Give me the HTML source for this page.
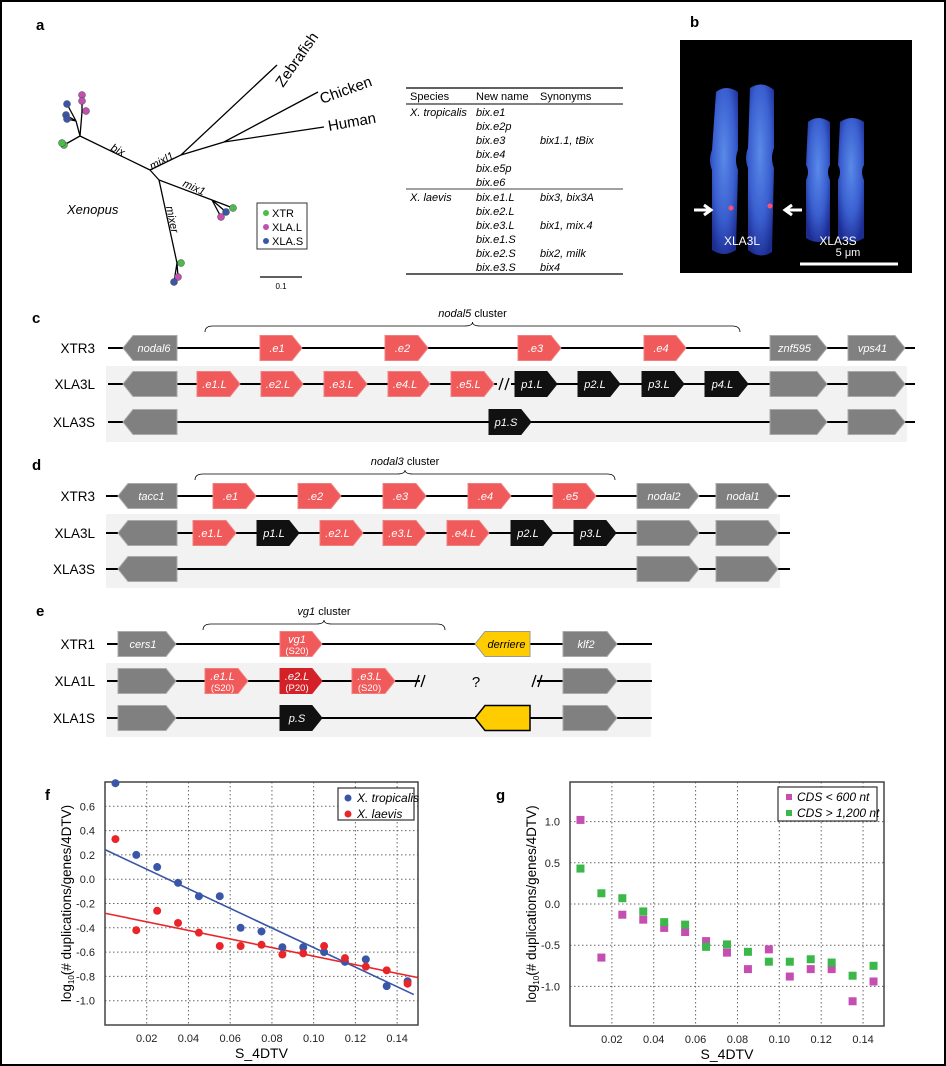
<!DOCTYPE html>
<html><head><meta charset="utf-8"><style>
html,body{margin:0;padding:0;background:#fff}
svg{display:block;font-family:"Liberation Sans",Arial,sans-serif}
</style></head><body>
<svg id="fig" width="946" height="1066" viewBox="0 0 946 1066" xmlns="http://www.w3.org/2000/svg">
<rect x="1" y="1" width="944" height="1064" fill="#fff" stroke="#000" stroke-width="2"/>
<g font-weight="bold" font-size="15">
<text x="36" y="30">a</text>
<text x="690" y="27">b</text>
<text x="32" y="323">c</text>
<text x="32" y="470">d</text>
<text x="36" y="616">e</text>
<text x="45" y="800">f</text>
<text x="496" y="800">g</text>
</g>
<g id="tree" stroke="#000" stroke-width="1.3" fill="none">
<path d="M150,170 L80,136 M80,136 L64,145 M80,136 L76,121 M76,121 L67,104 M76,121 L66,115 M76,121 L67,119 M80,136 L82,112 M82,112 L82,95 M82,112 L82,101 M82,112 L86,111"/>
<path d="M150,170 L181,155 L277,65 M181,155 L224,142 L318,92 M224,142 L324,127"/>
<path d="M150,170 L159,180 L212,200 L233,208 M212,200 L226,212 M212,200 L221,217"/>
<path d="M159,180 L177,263 L181,263 M177,263 L178,277 M177,263 L174,282"/>
</g>
<g stroke="#444" stroke-width="0.5">
<circle cx="64" cy="145" r="3.5" fill="#4cbb4c"/><circle cx="62" cy="143" r="3.5" fill="#4cbb4c"/>
<circle cx="67" cy="104" r="3.5" fill="#3a56a8"/><circle cx="66" cy="115" r="3.5" fill="#3a56a8"/><circle cx="67" cy="119" r="3.5" fill="#3a56a8"/>
<circle cx="82" cy="95" r="3.5" fill="#c44fb0"/><circle cx="82" cy="101" r="3.5" fill="#c44fb0"/><circle cx="86" cy="111" r="3.5" fill="#c44fb0"/>
<circle cx="233" cy="208" r="3.5" fill="#4cbb4c"/><circle cx="226" cy="212" r="3.5" fill="#3a56a8"/><circle cx="221" cy="217" r="3.5" fill="#c44fb0"/>
<circle cx="181" cy="263" r="3.5" fill="#4cbb4c"/><circle cx="178" cy="277" r="3.5" fill="#c44fb0"/><circle cx="174" cy="282" r="3.5" fill="#3a56a8"/>
</g>
<g font-size="13">
<text transform="translate(283,88) rotate(-55)" font-size="15">Zebrafish</text>
<text transform="translate(322,104) rotate(-20)" font-size="15">Chicken</text>
<text transform="translate(329,131) rotate(-10)" font-size="15">Human</text>
<text transform="translate(110,150) rotate(27)" font-style="italic" font-size="11">bix</text>
<text transform="translate(152,170) rotate(-28)" font-style="italic" font-size="11">mixl1</text>
<text transform="translate(182,186) rotate(24)" font-style="italic" font-size="11">mix1</text>
<text transform="translate(166,207) rotate(78)" font-style="italic" font-size="11">mixer</text>
<text x="67" y="214" font-style="italic" font-size="13">Xenopus</text>
</g>
<g>
<rect x="257" y="203" width="50" height="46" fill="#fff" stroke="#333" stroke-width="1"/>
<circle cx="266" cy="213" r="3" fill="#4cbb4c"/><text x="272" y="217" font-size="11">XTR</text>
<circle cx="266" cy="227" r="3" fill="#c44fb0"/><text x="272" y="231" font-size="11">XLA.L</text>
<circle cx="266" cy="241" r="3" fill="#3a56a8"/><text x="272" y="245" font-size="11">XLA.S</text>
</g>
<g><line x1="260" y1="277" x2="302" y2="277" stroke="#000" stroke-width="1.3"/><text x="281" y="289" font-size="8" text-anchor="middle">0.1</text></g>
<g font-size="11">
<line x1="406" y1="88" x2="623" y2="88" stroke="#000" stroke-width="1.3"/>
<line x1="406" y1="104" x2="623" y2="104" stroke="#000" stroke-width="1"/>
<line x1="406" y1="189" x2="623" y2="189" stroke="#000" stroke-width="0.8"/>
<line x1="406" y1="274" x2="623" y2="274" stroke="#000" stroke-width="1.3"/>
<text x="410" y="100">Species</text><text x="476" y="100">New name</text><text x="540" y="100">Synonyms</text>
<g font-style="italic">
<text x="410" y="116">X. tropicalis</text>
<text x="476" y="116">bix.e1</text><text x="476" y="130">bix.e2p</text><text x="476" y="144">bix.e3</text><text x="476" y="158">bix.e4</text><text x="476" y="172">bix.e5p</text><text x="476" y="186">bix.e6</text>
<text x="540" y="144">bix1.1, tBix</text>
<text x="410" y="201">X. laevis</text>
<text x="476" y="201">bix.e1.L</text><text x="476" y="215">bix.e2.L</text><text x="476" y="229">bix.e3.L</text><text x="476" y="243">bix.e1.S</text><text x="476" y="257">bix.e2.S</text><text x="476" y="271">bix.e3.S</text>
<text x="540" y="201">bix3, bix3A</text><text x="540" y="229">bix1, mix.4</text><text x="540" y="257">bix2, milk</text><text x="540" y="271">bix4</text>
</g></g>
<defs>
<radialGradient id="chr" cx="50%" cy="40%" r="65%"><stop offset="0" stop-color="#5a8ae8"/><stop offset="0.6" stop-color="#3a5fd0"/><stop offset="1" stop-color="#1c2c90"/></radialGradient>
</defs>
<g>
<rect x="680" y="40" width="232" height="233" fill="#000"/>
<path d="M716,92 Q726,84 738,92 L738,150 Q734,160 738,170 L736,250 Q724,258 712,250 L712,170 Q708,160 712,150 Z" fill="url(#chr)"/>
<path d="M750,88 Q762,80 774,90 L774,148 Q770,158 774,168 L772,252 Q760,260 748,250 L748,168 Q744,158 748,148 Z" fill="url(#chr)"/>
<path d="M808,122 Q818,114 830,122 L830,165 Q826,172 830,180 L830,238 Q818,246 806,238 L806,180 Q810,172 806,165 Z" fill="url(#chr)"/>
<path d="M840,122 Q852,114 864,122 L864,165 Q860,172 864,180 L864,238 Q852,246 838,238 L838,180 Q842,172 838,165 Z" fill="url(#chr)"/>
<circle cx="731" cy="208" r="2.5" fill="#ff5070"/><circle cx="770" cy="206" r="2.5" fill="#ff5070"/>
<path d="M694,210 L710,210 M704,205 L711,210 L704,215" stroke="#fff" stroke-width="3" fill="none"/>
<path d="M802,210 L786,210 M792,205 L785,210 L792,215" stroke="#fff" stroke-width="3" fill="none"/>
<text x="742" y="245" fill="#fff" font-size="12" text-anchor="middle">XLA3L</text>
<text x="838" y="245" fill="#fff" font-size="12" text-anchor="middle">XLA3S</text>
<text x="848" y="256" fill="#fff" font-size="11" text-anchor="middle">5 μm</text>
<line x1="800" y1="264" x2="898" y2="264" stroke="#fff" stroke-width="3"/>
</g>
<g id="genes"></g>
<g id="chartF"></g>
<g id="chartG"></g>
</svg>
<script>
// ---------- chart data ----------
const sBins = [0.005,0.015,0.025,0.035,0.045,0.055,0.065,0.075,0.085,0.095,0.105,0.115,0.125,0.135,0.145];
const fTropicalis = [0.79,0.2,0.1,-0.03,-0.14,-0.14,-0.4,-0.43,-0.56,-0.56,-0.6,-0.68,-0.66,-0.88,-0.84];
const fLaevis = [0.33,-0.42,-0.26,-0.36,-0.44,-0.55,-0.55,-0.54,-0.62,-0.61,-0.55,-0.65,-0.72,-0.75,-0.86];
const fYTicks = [0.6,0.4,0.2,0.0,-0.2,-0.4,-0.6,-0.8,-1.0];
const xTicks = [0.02,0.04,0.06,0.08,0.10,0.12,0.14];
const gShort = [1.02,-0.65,-0.13,-0.19,-0.29,-0.34,-0.45,-0.59,-0.79,-0.55,-0.88,-0.79,-0.79,-1.18,-0.94];
const gLong = [0.43,0.13,0.07,-0.09,-0.22,-0.25,-0.52,-0.49,-0.58,-0.70,-0.70,-0.67,-0.71,-0.87,-0.75];
const gYTicks = [1.0,0.5,0.0,-0.5,-1.0];

const NS='http://www.w3.org/2000/svg';
function mk(parent,tag,attrs,text){const e=document.createElementNS(NS,tag);for(const k in attrs)e.setAttribute(k,attrs[k]);if(text!==undefined)e.textContent=text;parent.appendChild(e);return e;}

const G=document.getElementById('genes');
function brace(x0,x1,y,italicPart,rest){
  const m=(x0+x1)/2;
  const p=mk(G,'path',{d:`M${x0},${y+10} Q${x0},${y+4} ${x0+8},${y+4} L${m-8},${y+4} Q${m},${y+4} ${m},${y} Q${m},${y+4} ${m+8},${y+4} L${x1-8},${y+4} Q${x1},${y+4} ${x1},${y+10}`,fill:'none',stroke:'#000','stroke-width':0.8});
  
  
  const t=mk(G,'text',{x:m,y:y-5,'font-size':11,'text-anchor':'middle'});
  
  
  mk(t,'tspan',{'font-style':'italic'},italicPart);mk(t,'tspan',{},rest);
}
function row(label,y,x0,x1){
  const t=mk(G,'text',{x:95,y:y+5,'font-size':13.5,'text-anchor':'end'},label);
  
  
  const l=mk(G,'line',{x1:x0,y1:y,x2:x1,y2:y,stroke:'#000','stroke-width':2});
  
  
}
function gene(x0,x1,y,dir,fill,stroke,label,sub){
  const h=12.5,a=10;
  const d = dir==='r' ? `M${x0},${y-h} L${x1-a},${y-h} L${x1},${y} L${x1-a},${y+h} L${x0},${y+h} Z`
                      : `M${x0+a},${y-h} L${x1},${y-h} L${x1},${y+h} L${x0+a},${y+h} L${x0},${y} Z`;
  const p=mk(G,'path',{d:d,fill:fill,stroke:stroke,'stroke-width':stroke==='#000'?1.5:1});
  
  
  if(label){
    const cx=(x0+x1)/2+(dir==='r'?-4:4);
    const t=mk(G,'text',{x:cx,y:sub?y-1:y+4,'font-size':11,'font-style':'italic',fill:fill==='#ffcc00'?'#000':'#fff','text-anchor':'middle'},label);
    
    
    if(sub){const s=mk(G,'text',{x:cx,y:y+10,'font-size':9.5,fill:'#fff','text-anchor':'middle'},sub);
      
      }
  }
}
function breakMark(x,y){
  const b=mk(G,'path',{d:`M${x-5},${y+6} L${x-1},${y-6} M${x+1},${y+6} L${x+5},${y-6}`,stroke:'#000','stroke-width':1.3,fill:'none'});
  
  
}
function bg(x,y,w,h){const r=mk(G,'rect',{x:x,y:y,width:w,height:h,fill:'#f2f2f2'});
  
  }
const GR='#808080',GS='#aaaaaa',RD='#f05a5a',RS='#f08080',BK='#111';
// panel c
bg(106,366,801,76);
brace(205,740,322,'nodal5',' cluster');
row('XTR3',348,108,915);row('XLA3L',384,108,915);row('XLA3S',422,108,915);
gene(123,177,348,'l',GR,GS,'nodal6');
[[260,302,'.e1'],[385,428,'.e2'],[518,561,'.e3'],[644,686,'.e4']].forEach(g=>gene(g[0],g[1],348,'r',RD,RS,g[2]));
gene(770,827,348,'r',GR,GS,'znf595');gene(848,905,348,'r',GR,GS,'vps41');
gene(123,177,384,'l',GR,GS,'');
[[197,240,'.e1.L'],[261,303,'.e2.L'],[324,367,'.e3.L'],[388,430,'.e4.L'],[451,494,'.e5.L']].forEach(g=>gene(g[0],g[1],384,'r',RD,RS,g[2]));
mk(G,'rect',{x:497,y:378,width:14,height:12,fill:'#f2f2f2'});breakMark(504,384);
[[515,557,'p1.L'],[578,620,'p2.L'],[642,684,'p3.L'],[705,748,'p4.L']].forEach(g=>gene(g[0],g[1],384,'r',BK,BK,g[2]));
gene(770,827,384,'r',GR,GS,'');gene(848,905,384,'r',GR,GS,'');
gene(123,177,422,'l',GR,GS,'');gene(489,531,422,'r',BK,BK,'p1.S');
gene(770,827,422,'r',GR,GS,'');gene(848,905,422,'r',GR,GS,'');
// panel d
bg(106,514,674,74);
brace(195,615,470,'nodal3',' cluster');
row('XTR3',496,106,790);row('XLA3L',533,106,790);row('XLA3S',569,106,790);
gene(118,177,496,'l',GR,GS,'tacc1');
[[213,256,'.e1'],[298,341,'.e2'],[383,426,'.e3'],[468,511,'.e4'],[553,596,'.e5']].forEach(g=>gene(g[0],g[1],496,'r',RD,RS,g[2]));
gene(637,699,496,'r',GR,GS,'nodal2');gene(716,778,496,'r',GR,GS,'nodal1');
gene(118,177,533,'l',GR,GS,'');
gene(193,236,533,'r',RD,RS,'.e1.L');gene(257,299,533,'r',BK,BK,'p1.L');
gene(320,363,533,'r',RD,RS,'.e2.L');gene(383,426,533,'r',RD,RS,'.e3.L');gene(447,489,533,'r',RD,RS,'.e4.L');
gene(511,553,533,'r',BK,BK,'p2.L');gene(574,616,533,'r',BK,BK,'p3.L');
gene(637,699,533,'r',GR,GS,'');gene(716,778,533,'r',GR,GS,'');
gene(118,177,569,'l',GR,GS,'');gene(637,699,569,'r',GR,GS,'');gene(716,778,569,'r',GR,GS,'');
// panel e
bg(106,663,545,74);
brace(203,445,620,'vg1',' cluster');
row('XTR1',644,107,652);
mk(G,'line',{x1:107,y1:681,x2:420,y2:681,stroke:'#000','stroke-width':2});
mk(G,'line',{x1:537,y1:681,x2:652,y2:681,stroke:'#000','stroke-width':2});
const rl=mk(G,'text',{x:95,y:686,'font-size':13.5,'text-anchor':'end'},'XLA1L');


row('XLA1S',718,107,652);
gene(118,176,644,'r',GR,GS,'cers1');gene(280,322,644,'r',RD,RS,'vg1','(S20)');
gene(475,530,644,'l','#ffcc00','#999','derriere');gene(563,617,644,'r',GR,GS,'klf2');
gene(118,176,681,'r',GR,GS,'');gene(205,248,681,'r',RD,RS,'.e1.L','(S20)');
gene(280,322,681,'r','#d42027','#d42027','.e2.L','(P20)');gene(352,395,681,'r',RD,RS,'.e3.L','(S20)');
breakMark(420,681);breakMark(537,681);
const q=mk(G,'text',{x:476,y:687,'font-size':15,'text-anchor':'middle'},'?');


gene(563,617,681,'r',GR,GS,'');
gene(118,176,718,'r',GR,GS,'');gene(280,322,718,'r',BK,BK,'p.S');
gene(475,530,718,'l','#ffcc00','#000','');gene(563,617,718,'r',GR,GS,'');

function chart(gid,L,R,T,B,ymin,ymax,yTicks,series,legendBox,useSquares){
  const g=document.getElementById(gid);
  const xs=v=>L+(v-0)/(0.15)*(R-L);
  const ys=v=>T+(ymax-v)/(ymax-ymin)*(B-T);
  xTicks.forEach(t=>{
    const gl=mk(g,'line',{x1:xs(t),y1:T,x2:xs(t),y2:B,stroke:'#666','stroke-width':1,'stroke-dasharray':'1.5,2.5'});
    
    
    const tl=mk(g,'text',{x:xs(t),y:B+17,'font-size':11,'text-anchor':'middle',fill:'#222'},t.toFixed(2));
    
    
  });
  yTicks.forEach(t=>{
    const gl=mk(g,'line',{x1:L,y1:ys(t),x2:R,y2:ys(t),stroke:'#666','stroke-width':1,'stroke-dasharray':'1.5,2.5'});
    
    
    const tl=mk(g,'text',{x:L-10,y:ys(t)+4,'font-size':11,'text-anchor':'end',fill:'#222'},t.toFixed(1));
    
    
  });
  const fr=mk(g,'rect',{x:L,y:T,width:R-L,height:B-T,fill:'none',stroke:'#444','stroke-width':1.5});
  
  
  series.forEach(s=>{
    if(s.fit){
      const n=sBins.length;let mx=0,my=0,c=0;for(let i=1;i<n;i++){mx+=sBins[i];my+=s.vals[i];c++;}mx/=c;my/=c;
      let num=0,den=0;for(let i=1;i<n;i++){num+=(sBins[i]-mx)*(s.vals[i]-my);den+=(sBins[i]-mx)**2;}
      const b=num/den,a=my-b*mx;
      const fl=mk(g,'line',{x1:xs(0),y1:ys(a),x2:xs(s.fitEnd),y2:ys(a+b*s.fitEnd),stroke:s.color,'stroke-width':1.6});
      
      
    }
  });
  series.forEach(s=>{
    s.vals.forEach((v,i)=>{
      let m;
      if(useSquares) m=mk(g,'rect',{x:xs(sBins[i])-4,y:ys(v)-4,width:8,height:8,fill:s.color});
      else m=mk(g,'circle',{cx:xs(sBins[i]),cy:ys(v),r:4,fill:s.color});
      
      
    });
  });
  const lb=mk(g,'rect',{x:legendBox[0],y:legendBox[1],width:legendBox[2],height:legendBox[3],fill:'#fff',stroke:'#333','stroke-width':1.2});
  
  
  series.forEach((s,i)=>{
    const yy=legendBox[1]+10+i*16;
    let m;
    if(useSquares) m=mk(g,'rect',{x:legendBox[0]+8,y:yy-3,width:6,height:6,fill:s.color});
    else m=mk(g,'circle',{cx:legendBox[0]+10,cy:yy,r:3.5,fill:s.color});
    
    
    const t=mk(g,'text',{x:legendBox[0]+19,y:yy+4,'font-size':12,'font-style':'italic'},s.label);
    
    
  });
  const xt=mk(g,'text',{x:(L+R)/2,y:B+33,'font-size':14,'text-anchor':'middle'},'S_4DTV');
  
  
  const yt=mk(g,'text',{transform:`translate(${L-34},${(T+B)/2}) rotate(-90)`,'font-size':13.5,'text-anchor':'middle'});
  
  
  mk(yt,'tspan',{},'log');mk(yt,'tspan',{'font-size':8,dy:3},'10');mk(yt,'tspan',{dy:-3},'(# duplications/genes/4DTV)');
}
chart('chartF',105,418,782,1025,-1.2,0.8,fYTicks,[
  {name:'tropicalis',label:'X. tropicalis',vals:fTropicalis,color:'#3a56a8',fit:true,fitEnd:0.148},
  {name:'laevis',label:'X. laevis',vals:fLaevis,color:'#e8262a',fit:true,fitEnd:0.15}
],[338,788,76,32],false);
chart('chartG',570,884,782,1026,-1.48,1.48,gYTicks,[
  {name:'cds-short',label:'CDS < 600 nt',vals:gShort,color:'#c44fb0'},
  {name:'cds-long',label:'CDS > 1,200 nt',vals:gLong,color:'#3cb84a'}
],[778,787,99,34],true);
</script>
</body></html>
